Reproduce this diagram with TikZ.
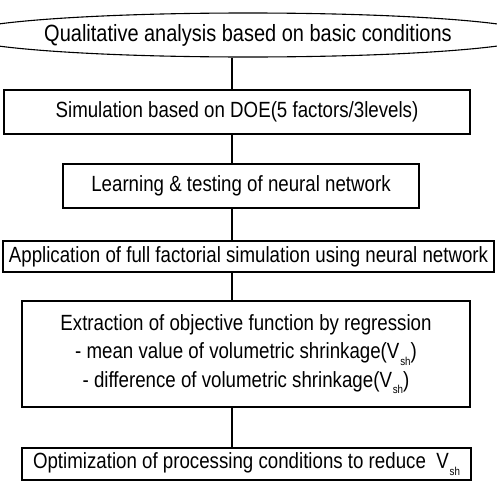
\documentclass[tikz,border=0pt]{standalone}
\usepackage{fontspec}
\setmainfont{Liberation Sans}[FakeStretch=0.85]
\usetikzlibrary{shapes.geometric}
\newcommand\Vsh{V\kern0.8pt\raisebox{-0.55ex}{\fontsize{11.5}{11.5}\selectfont sh}}
\begin{document}
\begin{tikzpicture}[x=1pt,y=-1pt,line width=1.1pt,
  every node/.style={font=\fontsize{22}{28.5}\selectfont, inner sep=0pt, align=center},
  stage/.style={draw, rectangle},
  start/.style={draw, ellipse, font=\fontsize{23.5}{28.5}\selectfont}]
\useasboundingbox (0,0) rectangle (497,482);
\coordinate (spine) at (232,0);
\node[start, minimum width=486pt, minimum height=44pt] (e) at (248,35)
  {Qualitative analysis based on basic conditions};
\node[stage, minimum width=466pt, minimum height=44pt] (b2) at (237,112)
  {Simulation based on DOE(5 factors/3levels)};
\node[stage, minimum width=356pt, minimum height=44pt] (b3) at (241,186)
  {Learning \& testing of neural network};
\node[stage, minimum width=491pt, minimum height=31pt] (b4) at (248.5,256.5)
  {Application of full factorial simulation using neural network};
\node[stage, minimum width=448pt, minimum height=106pt] (b5) at (246,354)
  {Extraction of objective function by regression\\
   - mean value of volumetric shrinkage(\Vsh)\\
   - difference of volumetric shrinkage(\Vsh)};
\node[stage, minimum width=449pt, minimum height=32pt] (b6) at (246.5,464)
  {Optimization of processing conditions to reduce\ \ \Vsh};
\draw (e.south -| spine) -- (b2.north -| spine);
\draw (b2.south -| spine) -- (b3.north -| spine);
\draw (b3.south -| spine) -- (b4.north -| spine);
\draw (b4.south -| spine) -- (b5.north -| spine);
\draw (b5.south -| spine) -- (b6.north -| spine);
\end{tikzpicture}
\end{document}
